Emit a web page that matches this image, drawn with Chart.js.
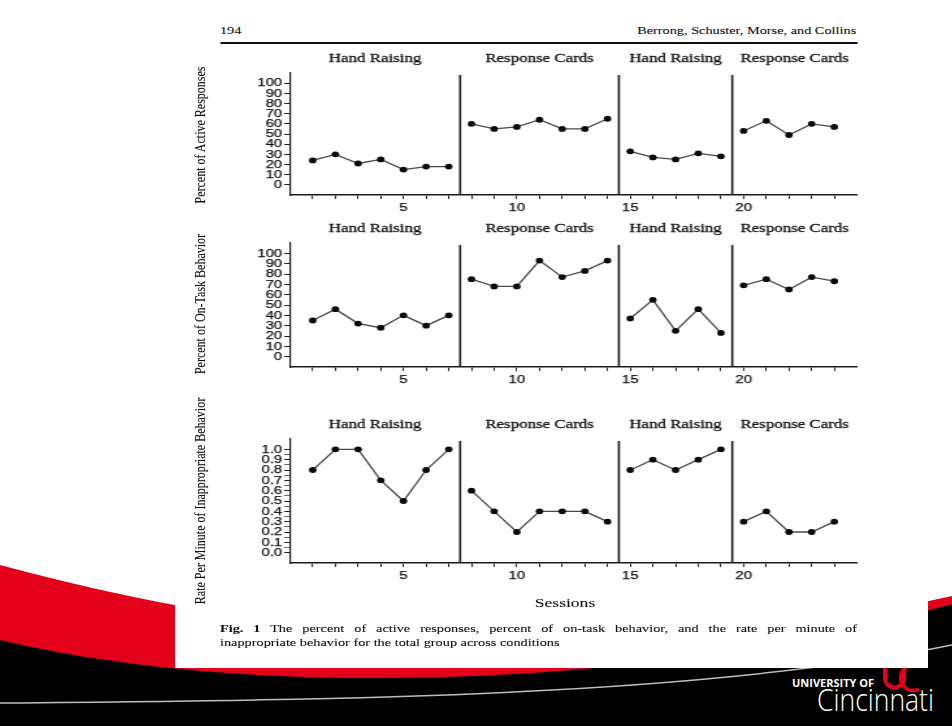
<!DOCTYPE html>
<html>
<head>
<meta charset="utf-8">
<script src="https://cdn.jsdelivr.net/npm/chart.js@4.4.1/dist/chart.umd.min.js"></script>
<style>
html, body { margin: 0; padding: 0; background: #fff; }
body { width: 952px; height: 726px; overflow: hidden; position: relative; font-family: "Liberation Serif", serif; color: #111; }
#deco { position: absolute; left: 0; top: 0; }
/* the scanned figure is stretched sideways on the slide, so the page box is too */
#page { position: absolute; left: 175px; top: 0; width: 579px; height: 668px; background: #fff; transform: scaleX(1.3); transform-origin: 0 0; -webkit-text-stroke: 0.1px #111; }
.panel { position: absolute; left: 10px; }
.hdr { position: absolute; top: 24px; font-size: 11px; line-height: 13px; }
#rule { position: absolute; left: 34.6px; top: 41.5px; width: 490px; height: 2.5px; background: #111; }
.ytitle { position: absolute; left: 19.2px; white-space: nowrap; font-size: 12px; line-height: 14px; transform: translate(-50%, -50%) rotate(-90deg); }
#sessions { position: absolute; left: 250px; width: 100px; top: 595px; text-align: center; font-size: 13.5px; }
#caption { position: absolute; left: 34.6px; top: 621px; width: 490px; font-size: 11px; line-height: 14px; }
#caption div:first-child { text-align: justify; text-align-last: justify; }
</style>
</head>
<body>
<svg id="deco" width="952" height="726">
  <path d="M0,565 Q500,700 952,596 L952,726 L0,726 Z" fill="#e3001b"/>
  <path d="M0,640 C250,700 650,690 952,604 L952,726 L0,726 Z" fill="#000"/>
  <path d="M0,703 C350,700 700,696 952,645" fill="none" stroke="#bdbdbd" stroke-width="1.5"/>
  <text x="792" y="687" font-family="Open Sans" font-weight="bold" font-size="10" fill="#fff" textLength="82" lengthAdjust="spacingAndGlyphs">UNIVERSITY OF</text>
  <path d="M885,665 v13 a9.5,9.5 0 0 0 19,0 v-13" fill="none" stroke="#e3001b" stroke-width="4"/>
  <path d="M919,667 a12.5,12.5 0 1 0 0,22" fill="none" stroke="#e3001b" stroke-width="3.5"/>
  <text x="817" y="711" font-family="Open Sans" font-weight="300" font-size="31" fill="#fff" textLength="117" lengthAdjust="spacingAndGlyphs">Cincinnati</text>
</svg>

<div id="page">
  <div class="hdr" style="left:34.6px;">194</div>
  <div class="hdr" style="right:55px;">Berrong, Schuster, Morse, and Collins</div>
  <div id="rule"></div>
  <div class="panel" style="top:45px;"><canvas id="activeChart" width="530" height="180"></canvas></div>
  <div class="panel" style="top:215px;"><canvas id="onTaskChart" width="530" height="182"></canvas></div>
  <div class="panel" style="top:411px;"><canvas id="rateChart" width="530" height="182"></canvas></div>
  <div class="ytitle" style="top:135px;">Percent of Active Responses</div>
  <div class="ytitle" style="top:304px;">Percent of On-Task Behavior</div>
  <div class="ytitle" style="top:501px;">Rate Per Minute of Inappropriate Behavior</div>
  <div id="sessions">Sessions</div>
  <div id="caption">
    <div><b>Fig. 1</b> The percent of active responses, percent of on-task behavior, and the rate per minute of</div>
    <div>inappropriate behavior for the total group across conditions</div>
  </div>
</div>

<script>
// ---- data ----
const sessions = [1, 2, 3, 4, 5, 6, 7, 8, 9, 10, 11, 12, 13, 14, 15, 16, 17, 18, 19, 20, 21, 22, 23, 24];
const sessionTickLabels = [5, 10, 15, 20];
const phaseNames = ["Hand Raising", "Response Cards", "Hand Raising", "Response Cards"];
const phaseSessions = [[1, 7], [8, 14], [15, 19], [20, 24]];

const activeResponses = [24, 30, 21, 25, 15, 18, 18, 60, 55, 57, 64, 55, 55, 65, 33, 27, 25, 31, 28, 53, 63, 49, 60, 57];
const onTaskBehavior = [35, 46, 32, 28, 40, 30, 40, 75, 68, 68, 93, 77, 83, 93, 37, 55, 25, 46, 23, 69, 75, 65, 77, 73];
const inappropriateRate = [0.8, 1.0, 1.0, 0.7, 0.5, 0.8, 1.0, 0.6, 0.4, 0.2, 0.4, 0.4, 0.4, 0.3, 0.8, 0.9, 0.8, 0.9, 1.0, 0.3, 0.4, 0.2, 0.2, 0.3];

const percentTicks = [0, 10, 20, 30, 40, 50, 60, 70, 80, 90, 100];
const rateTicks = [0.0, 0.1, 0.2, 0.3, 0.4, 0.5, 0.6, 0.7, 0.8, 0.9, 1.0];
const rateMinorTicks = [0.05, 0.15, 0.25, 0.35, 0.45, 0.55, 0.65, 0.75, 0.85, 0.95];

const INK = '#111';

// phase change lines and the condition names above each phase
const phasePlugin = {
    id: 'phases',
    afterDatasetsDraw(chart) {
        const { ctx, chartArea, scales: { x } } = chart;
        ctx.save();
        ctx.strokeStyle = '#1a1a1a';
        ctx.lineWidth = 1.6;
        phaseSessions.slice(0, -1).forEach(p => {
            const px = x.getPixelForValue(p[1] + 0.5);
            ctx.beginPath(); ctx.moveTo(px, chartArea.top + 2); ctx.lineTo(px, chartArea.bottom); ctx.stroke();
        });
        ctx.fillStyle = INK;
        ctx.strokeStyle = INK;
        ctx.lineWidth = 0.3;
        ctx.font = '13px "Liberation Serif"';
        ctx.textAlign = 'center';
        ctx.textBaseline = 'middle';
        phaseSessions.forEach((p, i) => {
            const left = i === 0 ? x.min : phaseSessions[i - 1][1] + 0.5;
            const right = i === phaseSessions.length - 1 ? x.max : p[1] + 0.5;
            const cx = x.getPixelForValue((left + right) / 2);
            ctx.fillText(phaseNames[i], cx, chartArea.top - 14);
            ctx.strokeText(phaseNames[i], cx, chartArea.top - 14);
        });
        ctx.restore();
    }
};

function makePanel(id, values, yTicks, yMinor, yMin, yMax, fmt) {
    const datasets = phaseSessions.map(p => ({
        data: sessions.filter(s => s >= p[0] && s <= p[1]).map(s => ({ x: s, y: values[s - 1] })),
        borderColor: '#4a4a4a', borderWidth: 1.3, tension: 0,
        pointRadius: 2.9, pointBackgroundColor: '#0a0a0a', pointBorderWidth: 0
    }));
    const allTicks = yTicks.concat(yMinor).sort((a, b) => a - b);
    const tickFont = { family: '"Liberation Sans"', size: 11.5 };

    return new Chart(document.getElementById(id), {
        type: 'line',
        data: { datasets },
        plugins: [phasePlugin],
        options: {
            responsive: false, animation: false, devicePixelRatio: 1,
            layout: { padding: { top: 28, right: 15.4, left: 0, bottom: 0 } },
            plugins: { legend: { display: false }, tooltip: { enabled: false } },
            scales: {
                x: {
                    type: 'linear', min: 0, max: 25,
                    afterBuildTicks: s => { s.ticks = sessions.map(v => ({ value: v })); },
                    afterFit: s => { s.height = 30; },
                    ticks: {
                        autoSkip: false, maxRotation: 0, padding: 2, color: INK, font: tickFont,
                        textStrokeColor: INK, textStrokeWidth: 0.25,
                        callback: v => sessionTickLabels.includes(v) ? String(v) : ''
                    },
                    grid: { drawOnChartArea: false, drawTicks: true, tickLength: 4, tickColor: '#222', tickWidth: 1 },
                    border: { color: '#1a1a1a', width: 1.5 }
                },
                y: {
                    type: 'linear', min: yMin, max: yMax,
                    afterBuildTicks: s => { s.ticks = allTicks.map(v => ({ value: v })); },
                    afterFit: s => { s.width = 78.5; },
                    ticks: {
                        autoSkip: false, padding: 1.5, color: INK, font: tickFont,
                        textStrokeColor: INK, textStrokeWidth: 0.25,
                        callback: v => yTicks.includes(v) ? fmt(v) : ''
                    },
                    grid: {
                        drawOnChartArea: false, drawTicks: true, tickLength: 4.5,
                        tickColor: c => yTicks.includes(c.tick.value) ? '#222' : '#666', tickWidth: 1
                    },
                    border: { color: '#1a1a1a', width: 1.2 }
                }
            }
        }
    });
}

makePanel('activeChart', activeResponses, percentTicks, [], -10, 110, v => String(v));
makePanel('onTaskChart', onTaskBehavior, percentTicks, [], -10, 110, v => String(v));
makePanel('rateChart', inappropriateRate, rateTicks, rateMinorTicks, -0.1, 1.1, v => v.toFixed(1));
</script>
</body>
</html>
